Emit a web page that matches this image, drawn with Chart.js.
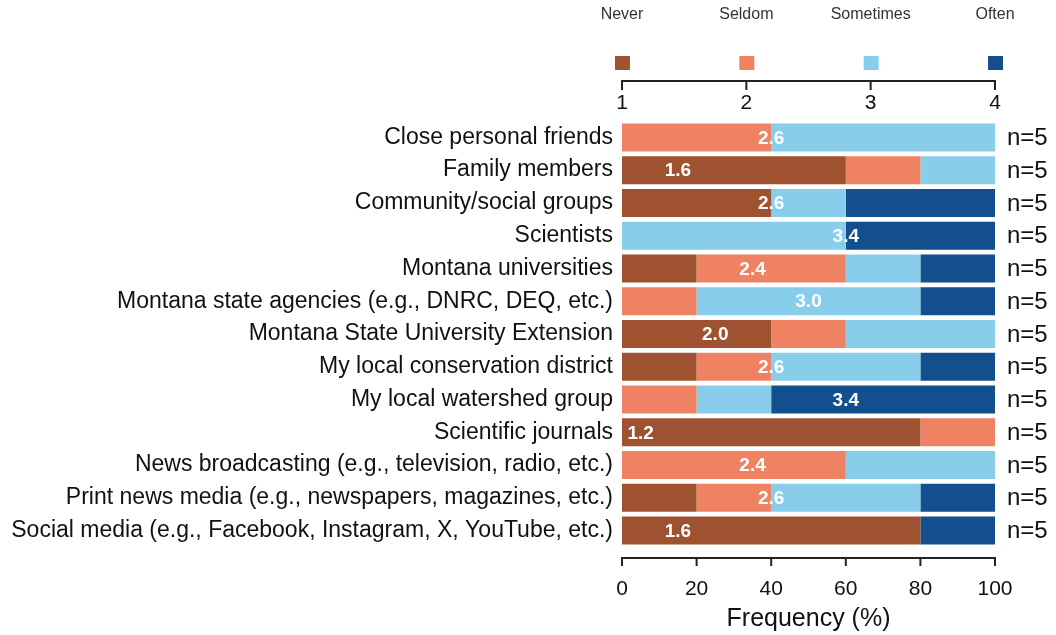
<!DOCTYPE html>
<html>
<head>
<meta charset="utf-8">
<script src="https://cdn.jsdelivr.net/npm/chart.js@4.4.0/dist/chart.umd.js"></script>
<style>
  html, body { margin: 0; padding: 0; background: #fff; }
  #wrap { width: 1056px; height: 635px; }
</style>
</head>
<body>
<div id="wrap"><canvas id="chart" width="1056" height="635"></canvas></div>
<script>
// survey sources (top to bottom)
const categories = [
  'Close personal friends',
  'Family members',
  'Community/social groups',
  'Scientists',
  'Montana universities',
  'Montana state agencies (e.g., DNRC, DEQ, etc.)',
  'Montana State University Extension',
  'My local conservation district',
  'My local watershed group',
  'Scientific journals',
  'News broadcasting (e.g., television, radio, etc.)',
  'Print news media (e.g., newspapers, magazines, etc.)',
  'Social media (e.g., Facebook, Instagram, X, YouTube, etc.)'
];
const responses = ['Never', 'Seldom', 'Sometimes', 'Often'];

// frequency (%) of each response
const never     = [0, 60, 40, 0, 20, 0, 40, 20, 0, 80, 0, 20, 80];
const seldom    = [40, 20, 0, 0, 40, 20, 20, 20, 20, 20, 60, 20, 0];
const sometimes = [60, 20, 20, 60, 20, 60, 40, 40, 20, 0, 40, 40, 0];
const often     = [0, 0, 40, 40, 20, 20, 0, 20, 60, 0, 0, 20, 20];

const means = [2.6, 1.6, 2.6, 3.4, 2.4, 3.0, 2.0, 2.6, 3.4, 1.2, 2.4, 2.6, 1.6];
const sampleSizes = [5, 5, 5, 5, 5, 5, 5, 5, 5, 5, 5, 5, 5];

const scaleTicks = [1, 2, 3, 4];
const freqTicks = [0, 20, 40, 60, 80, 100];

const colors = ['#9E5230', '#EF8263', '#88CEEA', '#124F8C'];
const FONT = 'Arial, "Liberation Sans", Helvetica, sans-serif';

// legend, top 1-4 scale, bottom axis line, mean labels and n=
const decorations = {
  id: 'decorations',
  afterDraw(chart) {
    const { ctx, chartArea, scales } = chart;
    const x = scales.x, top = scales.x2, y = scales.y;
    ctx.save();

    // legend above the 1-4 scale
    ctx.textAlign = 'center';
    ctx.textBaseline = 'middle';
    ctx.font = '16px ' + FONT;
    scaleTicks.forEach((t, i) => {
      const cx = top.getPixelForValue(t);
      ctx.fillStyle = '#333';
      ctx.fillText(responses[i], cx, 15);
      ctx.fillStyle = colors[i];
      ctx.fillRect(cx - 7, 56, 15, 14);
    });

    // top scale, ticks pointing down, labels below
    ctx.strokeStyle = '#222';
    ctx.lineWidth = 2;
    ctx.beginPath();
    ctx.moveTo(top.getPixelForValue(1), 81);
    ctx.lineTo(top.getPixelForValue(4), 81);
    scaleTicks.forEach(t => {
      const px = top.getPixelForValue(t);
      ctx.moveTo(px, 80);
      ctx.lineTo(px, 90);
    });
    ctx.stroke();
    ctx.fillStyle = '#111';
    ctx.font = '21px ' + FONT;
    scaleTicks.forEach(t => ctx.fillText(String(t), top.getPixelForValue(t), 103));

    // bottom axis, offset from the bars
    const by = chartArea.bottom + 11;
    ctx.beginPath();
    ctx.moveTo(x.getPixelForValue(0), by);
    ctx.lineTo(x.getPixelForValue(100), by);
    freqTicks.forEach(t => {
      const px = x.getPixelForValue(t);
      ctx.moveTo(px, by - 1);
      ctx.lineTo(px, by + 8);
    });
    ctx.stroke();

    // mean scores inside bars
    ctx.fillStyle = '#fff';
    ctx.font = 'bold 19px ' + FONT;
    means.forEach((m, i) => {
      ctx.fillText(m.toFixed(1), x.getPixelForValue((m - 1) * 25), y.getPixelForValue(i) + 1);
    });

    // sample sizes on the right
    ctx.fillStyle = '#111';
    ctx.textAlign = 'left';
    ctx.font = '24px ' + FONT;
    sampleSizes.forEach((n, i) => {
      ctx.fillText('n=' + n, chartArea.right + 12, y.getPixelForValue(i) + 1);
    });

    ctx.restore();
  }
};

const seriesData = [never, seldom, sometimes, often];

new Chart(document.getElementById('chart'), {
  type: 'bar',
  data: {
    labels: categories,
    datasets: responses.map((r, i) => ({
      label: r,
      data: seriesData[i],
      backgroundColor: colors[i],
      borderWidth: 0,
      barPercentage: 0.855,
      categoryPercentage: 1
    }))
  },
  options: {
    indexAxis: 'y',
    responsive: false,
    animation: false,
    layout: { padding: { top: 121, right: 61, left: 0, bottom: 0 } },
    plugins: {
      legend: { display: false },
      tooltip: { enabled: false }
    },
    scales: {
      x: {
        stacked: true,
        min: 0,
        max: 100,
        grid: { display: false, drawTicks: false },
        border: { display: false },
        afterBuildTicks: s => { s.ticks = freqTicks.map(v => ({ value: v })); },
        afterFit: s => { s.height = 88; },
        ticks: {
          color: '#111',
          padding: 30,
          font: { family: FONT, size: 21 }
        },
        title: {
          display: true,
          text: 'Frequency (%)',
          color: '#111',
          font: { family: FONT, size: 25 },
          padding: { top: 0, bottom: 1 }
        }
      },
      x2: {
        type: 'linear',
        position: 'top',
        display: false,
        min: 1,
        max: 4
      },
      y: {
        stacked: true,
        grid: { display: false, drawTicks: false },
        border: { display: false },
        afterFit: s => { s.width = 622; },
        ticks: {
          color: '#111',
          padding: 9,
          autoSkip: false,
          font: { family: FONT, size: 23 }
        }
      }
    }
  },
  plugins: [decorations]
});
</script>
</body>
</html>
